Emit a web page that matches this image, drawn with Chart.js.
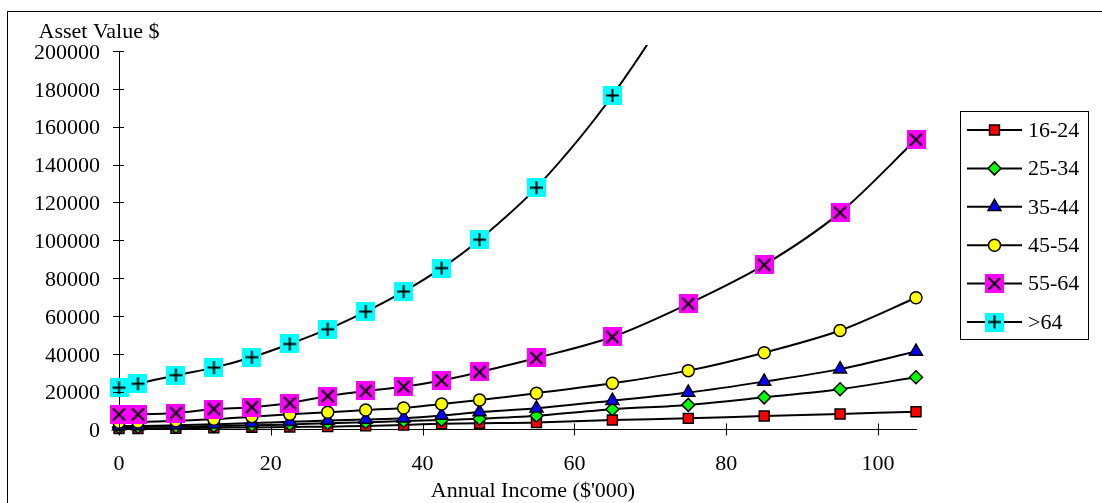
<!DOCTYPE html>
<html>
<head>
<meta charset="utf-8">
<script src="https://cdn.jsdelivr.net/npm/chart.js@4/dist/chart.umd.min.js"></script>
<style>
  html, body { margin: 0; padding: 0; background: #fff; }
  canvas { display: block; }
</style>
</head>
<body>
<canvas id="c" width="1102" height="503"></canvas>
<script>
// Annual income bands ($'000) and asset value ($) for each age group
const income = [0, 2.5, 7.5, 12.5, 17.5, 22.5, 27.5, 32.5, 37.5, 42.5, 47.5, 55, 65, 75, 85, 95, 105];
const age16to24 = [500, 500, 600, 900, 1100, 1300, 1500, 1900, 2400, 3000, 3300, 3700, 5000, 5900, 7100, 8200, 9400];
const age25to34 = [1200, 1300, 1500, 1800, 2200, 2700, 3300, 3800, 4500, 5000, 5700, 7300, 10700, 13000, 17000, 21300, 27600];
const age35to44 = [1800, 1900, 2200, 2800, 3400, 4100, 4700, 5300, 6000, 7400, 9200, 11200, 15200, 19500, 25300, 31900, 41200];
const age45to54 = [3800, 4000, 4600, 5400, 6800, 8000, 9100, 10300, 11400, 13500, 15600, 19200, 24400, 31100, 40600, 52300, 69600];
const age55to64 = [8000, 8000, 8700, 10800, 11800, 14000, 17700, 20400, 22600, 25900, 30400, 37800, 48900, 66400, 87000, 114600, 153200];
const ageOver64 = [22100, 24200, 28700, 32700, 38200, 45200, 53000, 62300, 72900, 85300, 100300, 127800, 176500, 240000, 330000, 450000, 610000];
const seriesNames = ['16-24', '25-34', '35-44', '45-54', '55-64', '>64'];
const xTickLabels = [0, 20, 40, 60, 80, 100];

const FONT = "'Liberation Serif', 'Times New Roman', serif";
const FONT_SIZE = 22;

// Square tiles with a black glyph, used as point markers
function tile(bg, glyph) {
  const c = document.createElement('canvas');
  c.width = 19; c.height = 19;
  const g = c.getContext('2d');
  g.fillStyle = bg;
  g.fillRect(0, 0, 19, 19);
  g.strokeStyle = '#000';
  g.lineWidth = 2;
  g.beginPath();
  if (glyph === 'x') {
    g.moveTo(3.5, 3.5); g.lineTo(15.5, 15.5);
    g.moveTo(15.5, 3.5); g.lineTo(3.5, 15.5);
  } else {
    g.moveTo(9.5, 3); g.lineTo(9.5, 16);
    g.moveTo(3, 9.5); g.lineTo(16, 9.5);
  }
  g.stroke();
  return c;
}

const styles = [
  { pointStyle: 'rect', radius: 7, fill: '#FF0000' },
  { pointStyle: 'rectRot', radius: 6.5, fill: '#00FF00' },
  { pointStyle: 'triangle', radius: 7.5, fill: '#0000FF' },
  { pointStyle: 'circle', radius: 6, fill: '#FFFF00' },
  { pointStyle: tile('#FF00FF', 'x'), radius: 9, fill: '#FF00FF' },
  { pointStyle: tile('#00FFFF', '+'), radius: 9, fill: '#00FFFF' }
];

const values = [age16to24, age25to34, age35to44, age45to54, age55to64, ageOver64];

const datasets = values.map((vals, i) => ({
  label: seriesNames[i],
  data: vals.map((v, k) => ({ x: income[k], y: v })),
  borderColor: '#000',
  borderWidth: 2,
  tension: 0.3,
  fill: false,
  pointStyle: styles[i].pointStyle,
  pointRadius: styles[i].radius,
  pointBackgroundColor: styles[i].fill,
  pointBorderColor: '#000',
  pointBorderWidth: 1.5,
  order: 5 - i,
  clip: { left: 14, right: 14, top: 6, bottom: 14 }
}));

// Frame, cross ticks, axis titles and legend box
const decor = {
  id: 'decor',
  beforeDraw(chart) {
    const ctx = chart.ctx;
    ctx.save();
    ctx.fillStyle = '#fff';
    ctx.fillRect(0, 0, chart.width, chart.height);
    ctx.strokeStyle = '#000';
    ctx.lineWidth = 1;
    ctx.strokeRect(7.5, 11.5, chart.width + 20, chart.height + 20);
    ctx.restore();
  },
  afterDatasetsDraw(chart) {
    const ctx = chart.ctx;
    const xs = chart.scales.x, ys = chart.scales.y;
    const area = chart.chartArea;
    ctx.save();
    ctx.strokeStyle = '#000';
    ctx.lineWidth = 1;
    ctx.beginPath();
    ys.ticks.forEach(t => {
      const py = Math.round(ys.getPixelForValue(t.value)) + 0.5;
      ctx.moveTo(area.left - 6, py); ctx.lineTo(area.left + 5, py);
    });
    xs.ticks.forEach(t => {
      const px = Math.round(xs.getPixelForValue(t.value)) + 0.5;
      ctx.moveTo(px, area.bottom - 6); ctx.lineTo(px, area.bottom + 6);
    });
    ctx.stroke();

    ctx.fillStyle = '#000';
    ctx.font = FONT_SIZE + 'px ' + FONT;
    ctx.textBaseline = 'middle';
    ctx.textAlign = 'center';
    ctx.fillText('Asset Value $', area.left - 20, 32);
    ctx.fillText("Annual Income ($'000)", 533, 491);

    // legend
    const lx = 960.5, ly = 111.5, lw = 128, lh = 228;
    ctx.lineWidth = 1;
    ctx.strokeRect(lx, ly, lw, lh);
    const helpers = Chart.helpers;
    chart.data.datasets.forEach((ds, i) => {
      const cy = 130 + i * 38.4;
      ctx.strokeStyle = '#000';
      ctx.lineWidth = 2;
      ctx.beginPath();
      ctx.moveTo(967, cy); ctx.lineTo(1022, cy);
      ctx.stroke();
      ctx.fillStyle = ds.pointBackgroundColor;
      ctx.strokeStyle = '#000';
      ctx.lineWidth = ds.pointBorderWidth;
      helpers.drawPoint(ctx, {
        pointStyle: ds.pointStyle,
        rotation: 0,
        radius: ds.pointRadius,
        borderWidth: ds.pointBorderWidth
      }, 994.5, cy);
      ctx.fillStyle = '#000';
      ctx.textAlign = 'left';
      ctx.textBaseline = 'middle';
      ctx.fillText(ds.label, 1028, cy + 1);
    });
    ctx.restore();
  }
};

Chart.defaults.font.family = FONT;
Chart.defaults.font.size = FONT_SIZE;
Chart.defaults.color = '#000';

new Chart(document.getElementById('c'), {
  type: 'line',
  data: { datasets },
  options: {
    responsive: false,
    animation: false,
    devicePixelRatio: 1,
    layout: { padding: { left: 0, top: 51, right: 186, bottom: 0 } },
    plugins: { legend: { display: false }, tooltip: { enabled: false } },
    scales: {
      x: {
        type: 'linear',
        min: 0,
        max: 105,
        grid: { display: false, drawTicks: false, tickLength: 0 },
        border: { display: true, color: '#000', width: 1 },
        ticks: {
          stepSize: 20,
          includeBounds: false,
          padding: 22,
          maxRotation: 0,
          callback: v => xTickLabels.includes(v) ? String(v) : ''
        },
        afterFit(scale) { scale.height = 73.5; }
      },
      y: {
        type: 'linear',
        min: 0,
        max: 200000,
        grid: { display: false, drawTicks: false, tickLength: 0 },
        border: { display: true, color: '#000', width: 1 },
        ticks: {
          stepSize: 20000,
          padding: 19,
          labelOffset: 2,
          callback: v => String(v)
        },
        afterFit(scale) { scale.width = 119; }
      }
    }
  },
  plugins: [decor]
});
</script>
</body>
</html>
